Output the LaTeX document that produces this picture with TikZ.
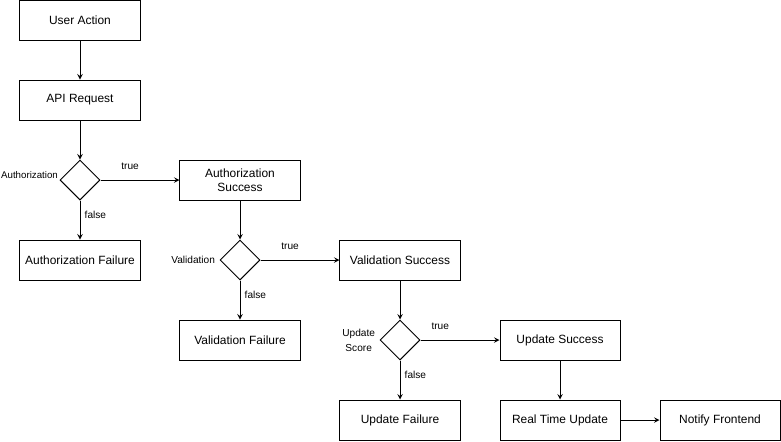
\documentclass[tikz,border=0pt]{standalone}
\usepackage{fontspec}
\setmainfont{Liberation Sans}
\usetikzlibrary{shapes,arrows,positioning}

\begin{document}
\begin{tikzpicture}[
    x=0.025cm, y=-0.025cm,
    stepbox/.style={rectangle, draw=black, fill=white, line width=0.7pt,
                    minimum width=3cm, minimum height=1cm, inner sep=1pt,
                    font=\fontsize{8.5}{10}\selectfont, align=center},
    decision/.style={diamond, draw=black, fill=white, line width=0.7pt,
                     minimum width=1cm, minimum height=1cm, inner sep=0pt},
    lbl/.style={font=\fontsize{7.2}{10.5}\selectfont, inner sep=1pt, align=center},
    arrow/.style={->, >=stealth, line width=0.7pt}
]
\useasboundingbox (0,0) rectangle (781,441);

% Main chain
\node[stepbox] (action) at (80, 20) {User Action};
\node[stepbox] (request) at (80, 100) {API Request};

% Authorization check
\node[decision] (auth) at (80, 180) {};
\node[lbl, anchor=east, inner sep=0pt, font=\fontsize{6.9}{8}\selectfont] (auth-l)
     at ([xshift=-1, yshift=3.5]auth.west) {Authorization};
\node[stepbox] (auth-ok) at (240, 180) {Authorization\\Success};
\node[stepbox] (auth-fail) at (80, 260) {Authorization Failure};

% Validation check
\node[decision] (valid) at (240, 260) {};
\node[lbl, anchor=east] (valid-l) at ([xshift=-2]valid.west) {Validation};
\node[stepbox] (valid-ok) at (400, 260) {Validation Success};
\node[stepbox] (valid-fail) at (240, 340) {Validation Failure};

% Score update
\node[decision] (upd) at (400, 340) {};
\node[lbl, anchor=east] (upd-l) at ([xshift=-2]upd.west) {Update\\Score};
\node[stepbox] (upd-ok) at (560, 340) {Update Success};
\node[stepbox] (upd-fail) at (400, 420) {Update Failure};

% Follow-up
\node[stepbox] (realtime) at (560, 420) {Real Time Update};
\node[stepbox] (notify) at (720, 420) {Notify Frontend};

% Arrows
\draw[arrow] (action) -- (request);
\draw[arrow] (request) -- (auth);
\draw[arrow] (auth) -- node[lbl, pos=0.375, above=6pt] {true} (auth-ok);
\draw[arrow] (auth) -- node[lbl, pos=0.375, right=2pt] {false} (auth-fail);
\draw[arrow] (auth-ok) -- (valid);
\draw[arrow] (valid) -- node[lbl, pos=0.375, above=6pt] {true} (valid-ok);
\draw[arrow] (valid) -- node[lbl, pos=0.375, right=2pt] {false} (valid-fail);
\draw[arrow] (valid-ok) -- (upd);
\draw[arrow] (upd) -- node[lbl, pos=0.25, above=6pt] {true} (upd-ok);
\draw[arrow] (upd) -- node[lbl, pos=0.375, right=2pt] {false} (upd-fail);
\draw[arrow] (upd-ok) -- (realtime);
\draw[arrow] (realtime) -- (notify);

\end{tikzpicture}
\end{document}
